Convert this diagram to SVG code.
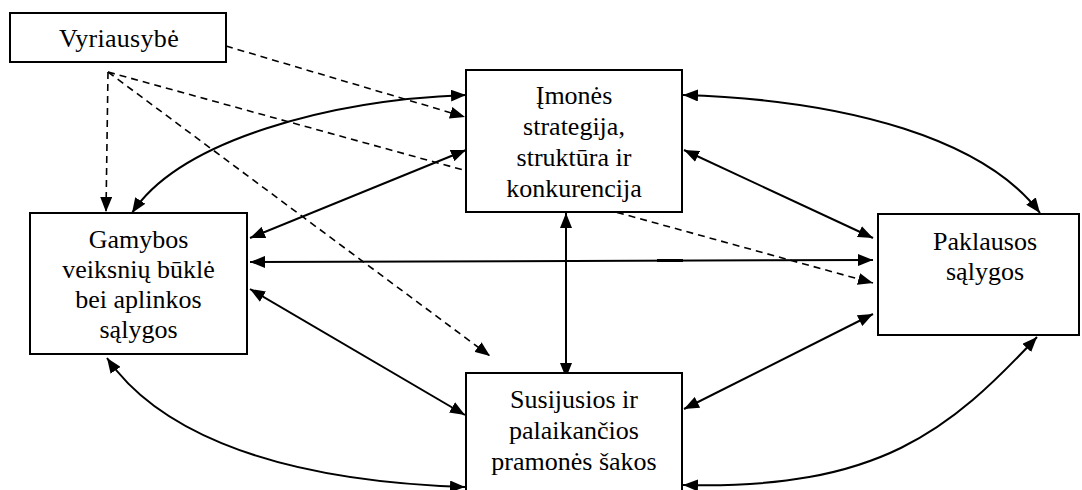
<svg xmlns="http://www.w3.org/2000/svg" width="1082" height="490" viewBox="0 0 1082 490">
  <style>
    .box { fill: #fff; stroke: #000; stroke-width: 2; }
    .lbl { font-size: 26px; fill: #000; text-anchor: middle; }
    .link { fill: none; stroke: #000; stroke-width: 2; }
    .dash { fill: none; stroke: #000; stroke-width: 1.6; stroke-dasharray: 7 5; }
  </style>
  <defs>
    <marker id="arr" markerUnits="userSpaceOnUse" markerWidth="16" markerHeight="12" refX="15" refY="6" orient="auto-start-reverse">
      <path d="M0,0 L15,6 L0,12 z" fill="#000"/>
    </marker>
  </defs>

  <rect width="1082" height="490" fill="#fff"/>

  <!-- connectors -->
  <g id="connectors">
    <!-- dashed influence lines from the government -->
    <path class="dash" d="M108,72 L106,212" marker-end="url(#arr)"/>
    <path class="dash" d="M226,46 L465,117" marker-end="url(#arr)"/>
    <path class="dash" d="M108,72 L873,283" marker-end="url(#arr)"/>
    <path class="dash" d="M108,72 L490,356" marker-end="url(#arr)"/>

    <!-- curved two-way links -->
    <path class="link" d="M132,213 C180,140 330,100 466,95" marker-start="url(#arr)" marker-end="url(#arr)"/>
    <path class="link" d="M683,95 C850,100 985,140 1040,213" marker-start="url(#arr)" marker-end="url(#arr)"/>
    <path class="link" d="M107,358 C150,420 250,480 465,487" marker-start="url(#arr)" marker-end="url(#arr)"/>
    <path class="link" d="M683,485 C880,490 950,430 1037,337" marker-start="url(#arr)" marker-end="url(#arr)"/>

    <!-- straight two-way links -->
    <path class="link" d="M250,238 L466,150" marker-start="url(#arr)" marker-end="url(#arr)"/>
    <path class="link" d="M684,150 L873,238" marker-start="url(#arr)" marker-end="url(#arr)"/>
    <path class="link" d="M250,262 L873,260" marker-start="url(#arr)" marker-end="url(#arr)"/>
    <path class="link" d="M657,260.5 L683,260.5" style="stroke-width:3"/>
    <path class="link" d="M566,213 L566,378" marker-start="url(#arr)" marker-end="url(#arr)"/>
    <path class="link" d="M250,289 L465,415" marker-start="url(#arr)" marker-end="url(#arr)"/>
    <path class="link" d="M873,314 L684,409" marker-start="url(#arr)" marker-end="url(#arr)"/>
  </g>

  <!-- nodes -->
  <g font-family="Liberation Serif, Tinos, DejaVu Serif, serif">
    <g id="government">
      <rect class="box" x="10" y="13" width="216" height="49"/>
      <text class="lbl" x="119" y="47" letter-spacing="0.3">Vyriausybė</text>
    </g>

    <g id="strategy">
      <rect class="box" x="466" y="70" width="216" height="142"/>
      <text class="lbl" x="574" y="104">Įmonės</text>
      <text class="lbl" x="574" y="135">strategija,</text>
      <text class="lbl" x="574" y="166">struktūra ir</text>
      <text class="lbl" x="574" y="197">konkurencija</text>
    </g>

    <g id="factors">
      <rect class="box" x="30" y="213" width="217" height="141"/>
      <text class="lbl" x="138.5" y="248">Gamybos</text>
      <text class="lbl" x="138.5" y="278">veiksnių būklė</text>
      <text class="lbl" x="138.5" y="308">bei aplinkos</text>
      <text class="lbl" x="138.5" y="338">sąlygos</text>
    </g>

    <g id="demand">
      <rect class="box" x="878" y="214" width="201" height="121"/>
      <text class="lbl" x="985" y="250">Paklausos</text>
      <text class="lbl" x="985" y="280">sąlygos</text>
    </g>

    <g id="related">
      <rect class="box" x="466" y="373" width="216" height="130"/>
      <text class="lbl" x="574" y="408">Susijusios ir</text>
      <text class="lbl" x="574" y="439">palaikančios</text>
      <text class="lbl" x="574" y="470">pramonės šakos</text>
    </g>
  </g>
</svg>
